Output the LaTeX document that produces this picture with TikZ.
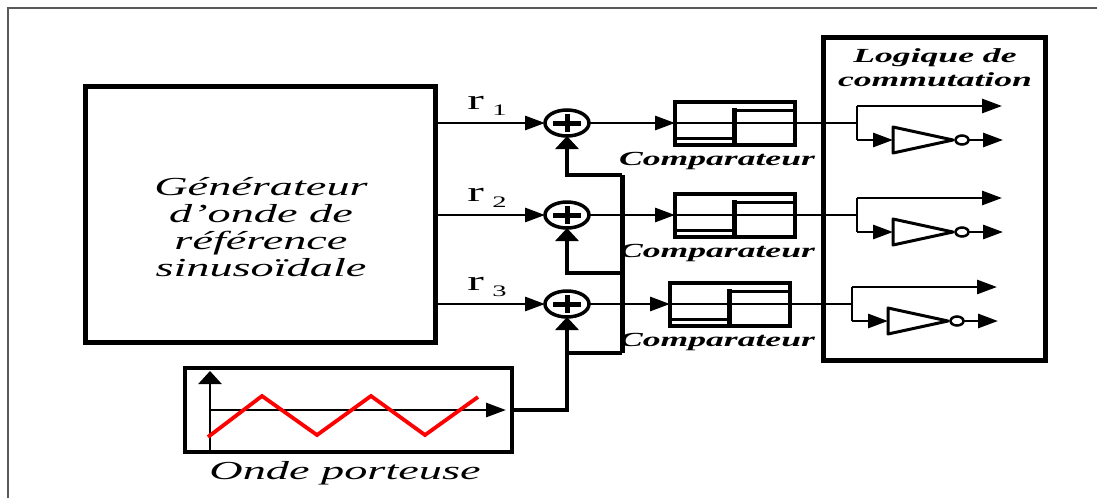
\documentclass[tikz,border=0pt]{standalone}
\usepackage{fontspec}
\setmainfont{Liberation Serif}
\usetikzlibrary{arrows.meta,shapes.geometric}
\newcommand{\wide}[1]{\scalebox{1.78}[1]{#1}}

\begin{document}
\begin{tikzpicture}[x=1pt,y=-1pt]
\tikzstyle{every node}=[inner sep=0pt, outer sep=0pt]
\tikzstyle{sig}=[line width=2.8pt]
\tikzstyle{bus}=[line width=4pt]
\tikzstyle{bigbox}=[draw, rectangle, line width=5pt]
\tikzstyle{cmpbox}=[draw, rectangle, line width=4pt, minimum width=120pt, minimum height=43pt]
\tikzstyle{sumnode}=[draw, ellipse, line width=3.5pt, minimum width=44pt, minimum height=26pt]
\tikzstyle{bubble}=[draw, ellipse, line width=2.5pt, minimum width=13pt, minimum height=9pt]
\tikzstyle{harr}=[-{Triangle[length=20pt,width=14pt]}]
\tikzstyle{varr}=[-{Triangle[length=13pt,width=23pt]}]
\tikzstyle{lbl}=[font=\fontsize{20}{24}\selectfont\bfseries\itshape]
\tikzstyle{big}=[font=\fontsize{26}{27}\selectfont\itshape]
\useasboundingbox (0,0) rectangle (1097,498);
\draw[gray!70!black, line width=1.5pt] (8,498) -- (8,8) -- (1097,8);
% generator
\draw (260.5,214) node (gen) [bigbox, minimum width=350pt, minimum height=256pt] {};
\draw (261,231) node (gentxt) [big] {\wide{\begin{tabular}{@{}c@{}}Générateur\\d'onde de\\référence\\sinusoïdale\end{tabular}}};
% carrier
\draw (348.5,410) node (car) [bigbox, line width=4.5pt, minimum width=327pt, minimum height=84pt] {};
\draw[sig,varr] (210,452) -- (210,371);
\draw[sig,harr] (210,410) -- (506,410);
\draw[red, line width=3.8pt] (208,437) -- (262,396) -- (317,435) -- (371,396) -- (425,435) -- (478,397);
\draw (345,473) node (carlbl) [big] {\wide{Onde porteuse}};
% switching logic
\draw (934,198.5) node (logic) [bigbox, minimum width=222pt, minimum height=323pt] {};
\draw (935,70) node (logtitle) [lbl] {\wide{\begin{tabular}{@{}c@{}}Logique de\\commutation\end{tabular}}};
% three phases
\foreach \i/\yy/\dx in {1/123/0, 2/215/0, 3/304/-5} {
\begin{scope}[shift={(0,\yy)}]
  \draw (567,0) node (sum\i) [sumnode] {};
  \draw[line width=5pt] (553,0) -- (581,0) (567,-9) -- (567,9);
  \draw (487,-17) node (r\i) [font=\fontsize{28}{30}\selectfont] {\wide{r\,\raisebox{-0.45ex}{\fontsize{16}{18}\selectfont\i}}};
  \draw (735+\dx,0) node (cmp\i) [cmpbox] {};
  \draw[line width=5pt] (734+\dx,-15) -- (734+\dx,21.5);
  \draw[line width=3pt] (734+\dx,-13) -- (793+\dx,-13);
  \draw[line width=3pt] (677+\dx,15) -- (734+\dx,15);
  \draw (717,38) node (cmplbl\i) [lbl] {\wide{Comparateur}};
  \draw[sig,harr] (gen.east |- sum\i) -- (sum\i.west);
  \draw[sig,harr] (sum\i.east) -- (cmp\i.west);
  \coordinate (br\i) at (857+\dx,0);
  \coordinate (up\i) at (857+\dx,-17);
  \coordinate (dn\i) at (857+\dx,17);
  \coordinate (o\i) at (1002+\dx,-17);
  \coordinate (inv\i) at (893+\dx,17);
  \coordinate (no\i) at (1003+\dx,17);
  \draw[sig] (cmp\i.west) -- (br\i);
  \draw[sig] (up\i) -- (dn\i);
  \draw[sig,harr] (up\i) -- (o\i);
  \draw[sig,harr] (dn\i) -- (inv\i);
  \draw[line width=3pt, line join=round] (inv\i) ++(0,-13) -- ++(0,26) -- ++(60,-13) -- cycle;
  \draw (962+\dx,17) node (bub\i) [bubble] {};
  \draw[sig,harr] (bub\i.east) -- (no\i);
\end{scope}
}
% carrier feed
\coordinate (bus1) at (622,175);
\coordinate (bus2) at (622,273);
\coordinate (bus3) at (622,353);
\draw[bus,varr] (car.east) -| (sum3.south);
\draw[bus] (sum3.south |- bus3) -- (bus3);
\draw[line width=5pt] (bus3) -- (bus1);
\draw[bus,varr] (bus1) -| (sum1.south);
\draw[bus,varr] (bus2) -| (sum2.south);
\end{tikzpicture}
\end{document}
